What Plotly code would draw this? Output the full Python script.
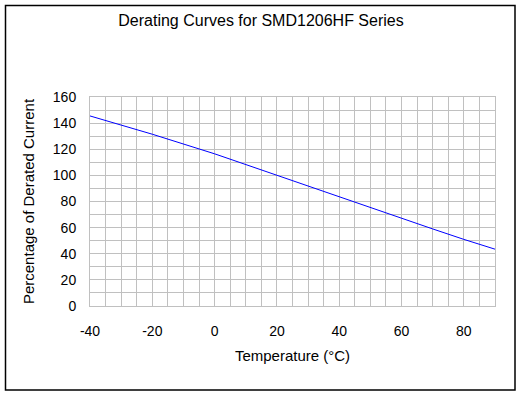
import plotly.graph_objects as go

temperature = [-40, -20, 0, 20, 40, 50, 60, 70, 80, 90]
derated_current = [145.5, 131.5, 116.5, 100, 83.5, 75, 67, 59, 51, 43.5]

x_ticks = [-40, -20, 0, 20, 40, 60, 80]
y_ticks = [0, 20, 40, 60, 80, 100, 120, 140, 160]

W, H = 522, 396
L, R, T, B = 90, 27, 97, 90
pw, ph = W - L - R, H - T - B

fig = go.Figure()
fig.add_trace(go.Scatter(x=temperature, y=derated_current, mode="lines",
                         line=dict(color="#0000ff", width=1), showlegend=False))

grid = "#c0c0c0"
font = "Liberation Sans, Arial, sans-serif"
fig.update_layout(
    width=W, height=H,
    margin=dict(l=L, r=R, t=T, b=B),
    paper_bgcolor="white", plot_bgcolor="white",
    font=dict(family=font, size=14, color="black"),
    title=dict(text="Derating Curves for SMD1206HF Series", x=0.5, xanchor="center",
               y=1 - 20 / H, yanchor="middle", yref="container",
               font=dict(size=16, family=font, color="black")),
    xaxis=dict(range=[-40, 90], tickvals=x_ticks, ticktext=[str(v) for v in x_ticks],
               showgrid=True, gridcolor=grid, gridwidth=1,
               minor=dict(dtick=5, tick0=-40, showgrid=True, gridcolor=grid, gridwidth=1),
               showline=True, linecolor=grid, linewidth=1, mirror=True,
               zeroline=False, ticks="", ticklabelstandoff=12,
               tickfont=dict(size=14),
               title=dict(text="Temperature (°C)", standoff=12, font=dict(size=15))),
    yaxis=dict(range=[0, 160], tickvals=y_ticks, ticktext=[str(v) for v in y_ticks],
               showgrid=True, gridcolor=grid, gridwidth=1,
               minor=dict(dtick=10, tick0=0, showgrid=True, gridcolor=grid, gridwidth=1),
               showline=True, linecolor=grid, linewidth=1, mirror=True,
               zeroline=False, ticks="", ticklabelstandoff=10,
               tickfont=dict(size=14),
               title=dict(text="Percentage of Derated Current", standoff=14, font=dict(size=15))),
    shapes=[dict(type="rect", xref="paper", yref="paper",
                 x0=(5.5 - L) / pw, x1=(515 - L) / pw,
                 y0=(T + ph - 390) / ph, y1=(T + ph - 5.5) / ph,
                 line=dict(color="black", width=1.5), fillcolor="rgba(0,0,0,0)",
                 layer="above")],
)

fig.write_html("out.html", config={"displayModeBar": False},
               post_script="document.body.style.margin='0';document.body.style.padding='0';")
